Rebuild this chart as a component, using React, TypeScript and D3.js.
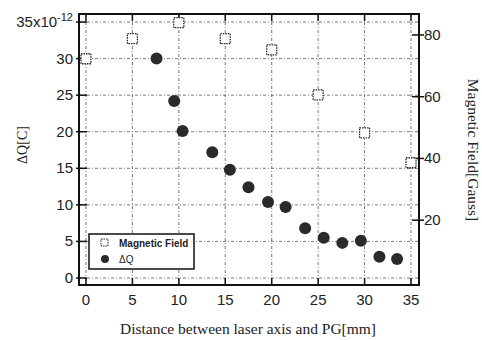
import React from "react";
import * as d3 from "d3";

const xTicks = [0, 5, 10, 15, 20, 25, 30, 35];
const qTicks = [0, 5, 10, 15, 20, 25, 30, 35];
const fieldTicks = [20, 40, 60, 80];

const fieldX = [0, 5, 10, 15, 20, 25, 30, 35];
const fieldY = [72.3, 78.8, 84.0, 78.8, 75.2, 60.6, 48.3, 38.6];

const qX = [7.6, 9.5, 10.4, 13.6, 15.5, 17.5, 19.6, 21.5, 23.6, 25.6, 27.6, 29.6, 31.6, 33.5];
const qY = [30.0, 24.2, 20.1, 17.2, 14.8, 12.4, 10.4, 9.7, 6.8, 5.5, 4.8, 5.1, 2.9, 2.6];

const W = 482, H = 340;
const L = 79, R = 419, T = 14, B = 285;

export default function App() {
  const x = d3.scaleLinear().domain([-0.75, 35.86]).range([L, R]);
  const y = d3.scaleLinear().domain([-0.96, 36.1]).range([B, T]);
  const y2 = d3.scaleLinear().domain([-1, 86.8]).range([B, T]);
  const sans = "'Liberation Sans', Arial, sans-serif";
  const serif = "'Liberation Serif', 'Times New Roman', serif";
  const grid = "#555";
  const dash = "3,2,1,2";
  return (
    <svg width={W} height={H} style={{ position: "absolute", left: 0, top: 0, background: "#fff" }}>
      <rect x={0} y={0} width={W} height={H} fill="#fff" />
      {xTicks.map((t) => (
        <line key={"gx" + t} x1={x(t)} x2={x(t)} y1={T} y2={B} stroke={grid} strokeWidth={0.8} strokeDasharray={dash} />
      ))}
      {qTicks.map((t) => (
        <line key={"gy" + t} x1={L} x2={R} y1={y(t)} y2={y(t)} stroke={grid} strokeWidth={0.8} strokeDasharray={dash} />
      ))}
      <rect x={L} y={T} width={R - L} height={B - T} fill="none" stroke="#111" strokeWidth={2} />
      {xTicks.map((t) => (
        <g key={"tx" + t}>
          <line x1={x(t)} x2={x(t)} y1={B} y2={B - 7} stroke="#111" strokeWidth={1.5} />
          <line x1={x(t)} x2={x(t)} y1={T} y2={T + 7} stroke="#111" strokeWidth={1.5} />
          <text x={x(t)} y={B + 20} textAnchor="middle" fontFamily={sans} fontSize={15} fill="#222">{t}</text>
        </g>
      ))}
      {qTicks.map((t) => (
        <g key={"ty" + t}>
          <line x1={L - 3} x2={L + 8} y1={y(t)} y2={y(t)} stroke="#111" strokeWidth={1.5} />
          {t === 35 ? (
            <text x={73} y={y(t) + 5} textAnchor="end" fontFamily={sans} fontSize={15} fill="#222">
              35x10<tspan dy={-6} fontSize={11}>-12</tspan>
            </text>
          ) : (
            <text x={73} y={y(t) + 5} textAnchor="end" fontFamily={sans} fontSize={15} fill="#222">{t}</text>
          )}
        </g>
      ))}
      {fieldTicks.map((t) => (
        <g key={"tr" + t}>
          <line x1={R - 7} x2={R + 5} y1={y2(t)} y2={y2(t)} stroke="#111" strokeWidth={1.5} />
          <text x={424} y={y2(t) + 5} textAnchor="start" fontFamily={sans} fontSize={15} fill="#222">{t}</text>
        </g>
      ))}
      {fieldX.map((v, i) => (
        <rect key={"s" + i} x={x(v) - 5} y={y2(fieldY[i]) - 5} width={10} height={10} fill="#fff" stroke="#222" strokeWidth={1.3} strokeDasharray="1.5,1" />
      ))}
      {qX.map((v, i) => (
        <circle key={"c" + i} cx={x(v)} cy={y(qY[i])} r={6} fill="#2a2a2a" />
      ))}
      <rect x={89} y={234} width={105} height={35} fill="#fff" stroke="#111" strokeWidth={1.5} />
      <rect x={101} y={239} width={7} height={7} fill="#fff" stroke="#222" strokeWidth={1} strokeDasharray="1.5,1" />
      <circle cx={105} cy={259} r={4} fill="#2a2a2a" />
      <text x={119} y={247} fontFamily={sans} fontSize={10} fontWeight="bold" fill="#222">Magnetic Field</text>
      <text x={119} y={263} fontFamily={sans} fontSize={10} fill="#222">ΔQ</text>
      <text transform={`translate(27,145) rotate(-90)`} textAnchor="middle" fontFamily={serif} fontSize={14} fill="#222">ΔQ[C]</text>
      <text transform={`translate(468,150) rotate(90)`} textAnchor="middle" fontFamily={serif} fontSize={15.5} fill="#222">Magnetic Field[Gauss]</text>
      <text x={248} y={334} textAnchor="middle" fontFamily={serif} fontSize={15.5} fill="#222">Distance between laser axis and PG[mm]</text>
    </svg>
  );
}
